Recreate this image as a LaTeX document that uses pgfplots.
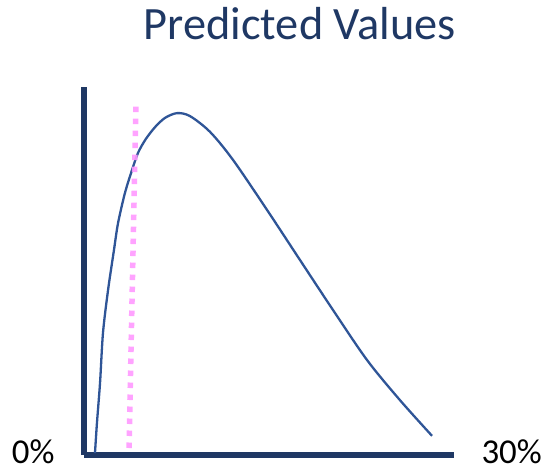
\documentclass[border=0pt]{standalone}
\usepackage{pgfplots}
\pgfplotsset{compat=1.18}
\usepackage{fontspec}
\setmainfont{Carlito}
\definecolor{navy}{HTML}{1F3864}
\definecolor{curveblue}{HTML}{2F5597}
\definecolor{pinkdot}{HTML}{FF99FF}
\begin{document}
\begin{tikzpicture}
\useasboundingbox (0,0) rectangle (547bp,471bp);
\begin{axis}[
    at={(84bp,16bp)}, anchor=origin,
    scale only axis,
    width=370bp, height=368bp,
    xmin=0, xmax=30, ymin=0, ymax=100,
    axis lines=left,
    axis line style={-, navy},
    x axis line style={line width=5bp},
    y axis line style={line width=6bp},
    xtick=\empty, ytick=\empty,
    clip=false
]
% predicted curve
\addplot[curveblue, line width=2.3bp, smooth, tension=0.5] coordinates {
    (0.89,0.5) (1.05,8.7) (1.30,19.6) (1.54,33.2) (1.95,44.8)
    (2.43,55.7) (2.76,63.0) (3.32,71.2) (3.89,77.4) (4.38,82.1)
    (5.00,85.8) (5.76,89.1) (6.57,91.6) (7.54,92.9) (8.59,92.1)
    (10.22,87.8) (12.08,80.2) (14.84,66.6) (17.51,53.0) (20.19,39.4)
    (22.95,25.8) (25.62,14.9) (28.22,5.2)
};
% dotted marker line
\addplot[pinkdot, line width=5.5bp, dash pattern=on 5.5bp off 6.5bp, opacity=0.9] coordinates {
    (3.65,1.9) (4.22,95.7)
};
\node[anchor=base east, font=\fontsize{35}{40}\selectfont] at (axis cs:-2.1,-2.2) {0\%};
\node[anchor=base west, font=\fontsize{35}{40}\selectfont] at (axis cs:31.95,-2.2) {30\%};
\node[anchor=base, text=navy, font=\fontsize{46.5}{52}\selectfont] at (axis cs:17.5,113.0) {Predicted Values};
\end{axis}
\end{tikzpicture}
\end{document}
